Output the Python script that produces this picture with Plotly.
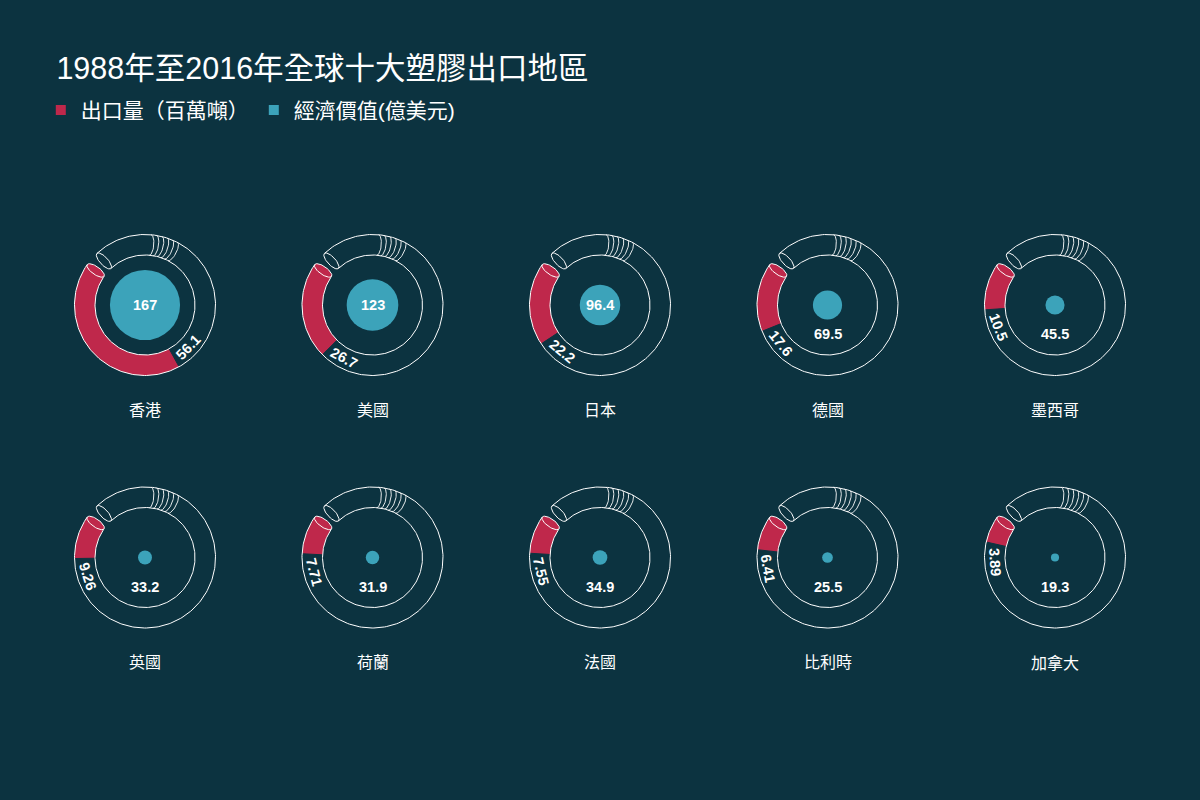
import math
import plotly.graph_objects as go

# data
countries = ["香港", "美國", "日本", "德國", "墨西哥", "英國", "荷蘭", "法國", "比利時", "加拿大"]
volume = [56.1, 26.7, 22.2, 17.6, 10.5, 9.26, 7.71, 7.55, 6.41, 3.89]      # 出口量（百萬噸）
value = [167, 123, 96.4, 69.5, 45.5, 33.2, 31.9, 34.9, 25.5, 19.3]         # 經濟價值(億美元)
volume_labels = ["56.1", "26.7", "22.2", "17.6", "10.5", "9.26", "7.71", "7.55", "6.41", "3.89"]
value_labels = ["167", "123", "96.4", "69.5", "45.5", "33.2", "31.9", "34.9", "25.5", "19.3"]

BG = "#0c3340"
RED = "#bf284b"
BLUE = "#3ca3ba"
WHITE = "#ffffff"
NUM_FONT = "Liberation Sans, Arial, sans-serif"
CJK_FONT = "Liberation Sans, Noto Sans CJK TC, sans-serif"

R_OUT, R_IN = 70.5, 50
R_MID = (R_OUT + R_IN) / 2
HALF_W = (R_OUT - R_IN) / 2
CAP_START = 145      # where the red tube begins (deg, ccw from east)
TUBE_END = 133       # open end of the tube
DEG_BASE = 12.5      # angle taken by the cap
DEG_PER_UNIT = 2.52  # red arc degrees per million tonnes
DOT_PX = 0.42        # blue dot diameter px per 億美元


def pt(cx, cy, r, deg):
    a = math.radians(deg)
    return cx + r * math.cos(a), cy - r * math.sin(a)


def arc(cx, cy, r, a0, a1, n=120):
    xs, ys = [], []
    for k in range(n + 1):
        x, y = pt(cx, cy, r, a0 + (a1 - a0) * k / n)
        xs.append(x)
        ys.append(y)
    return xs, ys


def ellipse(cx, cy, deg, s0=0, s1=360, b=4.0, n=48):
    a = math.radians(deg)
    ux, uy = math.cos(a), -math.sin(a)       # radial
    tx, ty = math.sin(a), math.cos(a)        # clockwise tangent
    mx, my = pt(cx, cy, R_MID, deg)
    xs, ys = [], []
    for k in range(n + 1):
        s = math.radians(s0 + (s1 - s0) * k / n)
        xs.append(mx + HALF_W * math.cos(s) * ux + b * math.sin(s) * tx)
        ys.append(my + HALF_W * math.cos(s) * uy + b * math.sin(s) * ty)
    return xs, ys


def line(xs, ys, color=WHITE, width=1, fill=None, fillcolor=None):
    return go.Scatter(x=xs, y=ys, mode="lines", line=dict(color=color, width=width),
                      fill=fill, fillcolor=fillcolor, hoverinfo="skip", showlegend=False)


fig = go.Figure()
annotations = []

for i, name in enumerate(countries):
    col, row = i % 5, i // 5
    cx = 145 + col * 227.5
    cy = 305 + row * 252.5

    # red filled part of the tube
    end = CAP_START + DEG_BASE + DEG_PER_UNIT * volume[i]
    ox, oy = arc(cx, cy, R_OUT, CAP_START, end)
    ix, iy = arc(cx, cy, R_IN, end, CAP_START)
    fig.add_trace(line(ox + ix + [ox[0]], oy + iy + [oy[0]], color=RED, width=0,
                       fill="toself", fillcolor=RED))
    ex, ey = pt(cx, cy, R_OUT, end)
    sx, sy = pt(cx, cy, R_IN, end)
    fig.add_trace(line([ex, sx], [ey, sy], color=BG, width=1))

    # tube outline
    for r in (R_OUT, R_IN):
        xs, ys = arc(cx, cy, r, TUBE_END, CAP_START - 360, n=240)
        fig.add_trace(line(xs, ys))

    # ribs where the tube turns away
    for k in range(6):
        xs, ys = ellipse(cx, cy, 85 - k * 4.5, 0, 180, b=3.5, n=24)
        fig.add_trace(line(xs, ys, width=0.9))

    # cap of the red part and open end of the tube
    xs, ys = ellipse(cx, cy, CAP_START)
    fig.add_trace(line(xs, ys, fill="toself", fillcolor=RED))
    xs, ys = ellipse(cx, cy, TUBE_END)
    fig.add_trace(line(xs, ys, fill="toself", fillcolor=BG))

    # blue dot for value
    d = DOT_PX * value[i]
    fig.add_trace(go.Scatter(x=[cx], y=[cy], mode="markers",
                             marker=dict(size=d, color=BLUE, line=dict(width=0)),
                             hoverinfo="skip", showlegend=False))
    ty = cy if d > 36 else cy + 29
    annotations.append(dict(x=cx, y=ty, text="<b>%s</b>" % value_labels[i], showarrow=False,
                            font=dict(family=NUM_FONT, size=14.5, color=WHITE)))

    # volume label along the tube
    phi = end + 17
    lx, ly = pt(cx, cy, R_MID, phi)
    ang = -(phi + 90)
    ang = (ang + 180) % 360 - 180
    annotations.append(dict(x=lx, y=ly, text="<b>%s</b>" % volume_labels[i], showarrow=False,
                            textangle=ang, font=dict(family=NUM_FONT, size=14.5, color=WHITE)))

    # country name
    annotations.append(dict(x=cx, y=cy + 105, text=name, showarrow=False,
                            font=dict(family=CJK_FONT, size=16, color=WHITE)))

# legend entries
fig.add_trace(go.Scatter(x=[None], y=[None], mode="markers", name="出口量（百萬噸）",
                         marker=dict(symbol="square", size=10, color=RED)))
fig.add_trace(go.Scatter(x=[None], y=[None], mode="markers", name="經濟價值(億美元)",
                         marker=dict(symbol="square", size=10, color=BLUE)))

fig.update_layout(
    width=1200, height=800,
    margin=dict(l=0, r=0, t=0, b=0),
    paper_bgcolor=BG, plot_bgcolor=BG,
    title=dict(text="1988年至2016年全球十大塑膠出口地區", x=0.047, xanchor="left",
               y=0.915, yanchor="middle",
               font=dict(family=CJK_FONT, size=30.5, color=WHITE)),
    legend=dict(orientation="h", x=0.034, xanchor="left", y=0.862, yanchor="middle",
                font=dict(family=CJK_FONT, size=21, color=WHITE),
                bgcolor="rgba(0,0,0,0)", itemwidth=30, tracegroupgap=0),
    xaxis=dict(range=[0, 1200], visible=False, fixedrange=True),
    yaxis=dict(range=[800, 0], visible=False, fixedrange=True),
    annotations=annotations,
)

fig.write_html("out.html", config={"displayModeBar": False},
               post_script="document.body.style.margin='0';")
